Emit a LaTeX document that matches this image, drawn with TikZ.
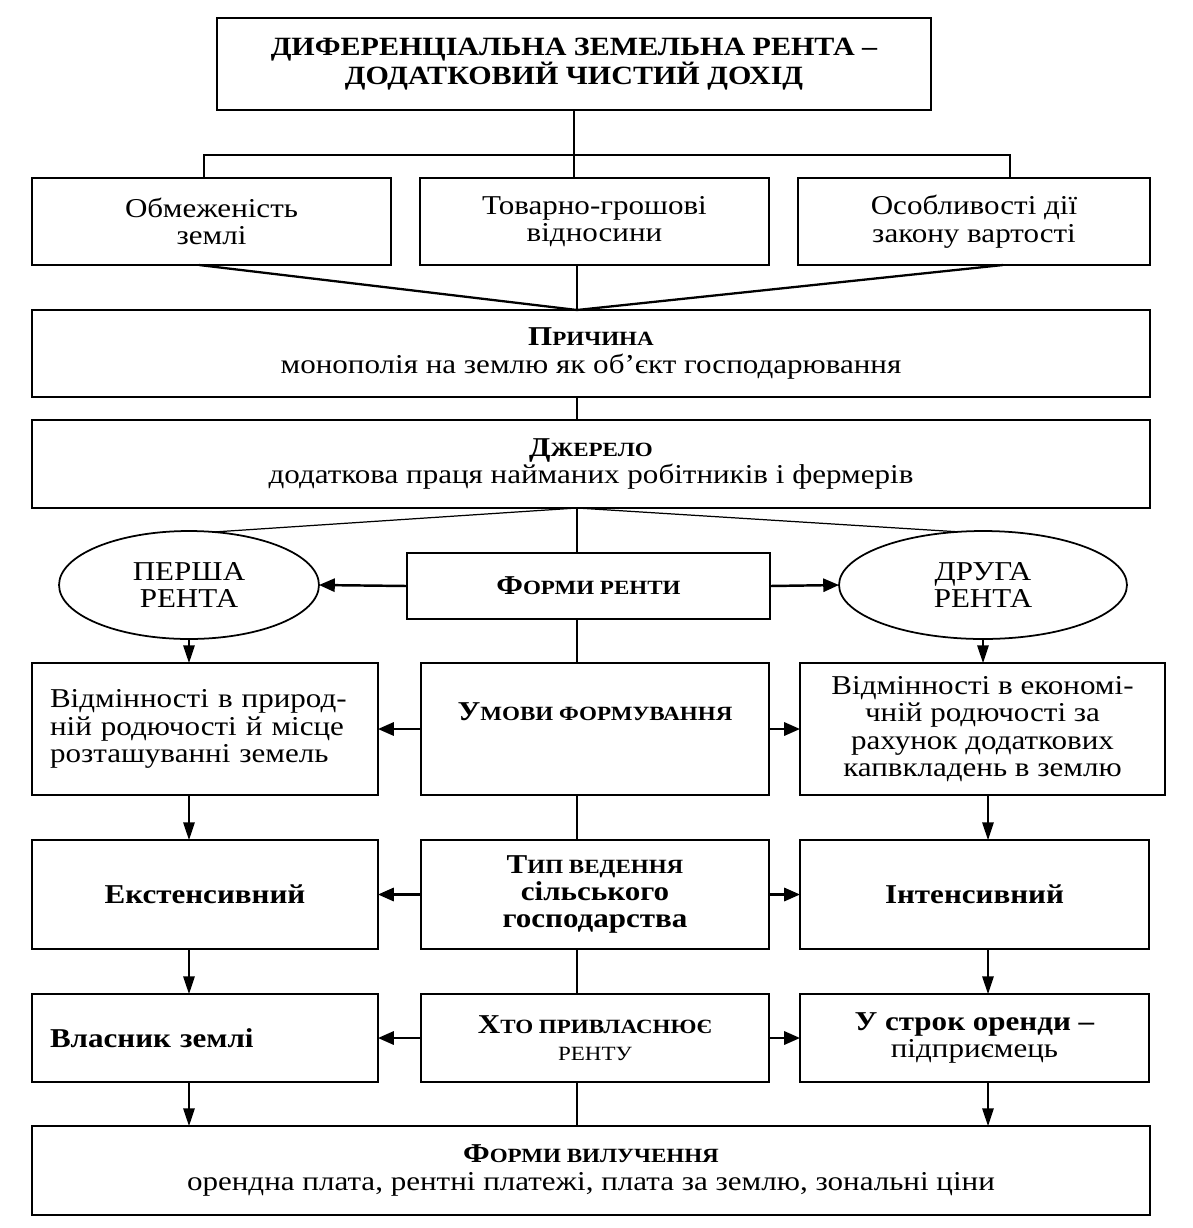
\documentclass[tikz,border=0pt]{standalone}
\usepackage{fontspec}
\setmainfont{Liberation Serif}[FakeStretch=1.14]
\usetikzlibrary{shapes.geometric,arrows.meta}
\newcommand{\smcp}[1]{{\fontsize{11.5}{14}\selectfont #1}}
\begin{document}
\begin{tikzpicture}[x=0.02cm,y=-0.02cm,
  every node/.style={font=\fontsize{15.5}{15.6}\selectfont, inner sep=0pt, outer sep=0pt},
  box/.style={draw, line width=1pt, align=center},
  oval/.style={draw, line width=1pt, ellipse, align=center},
  link/.style={line width=0.7pt},
  arr/.style={line width=1.4pt, -{Triangle[length=9pt,width=7.5pt]}},
  darr/.style={line width=0.7pt, -{Triangle[length=10pt,width=6.5pt]}}]
\useasboundingbox (0,0) rectangle (1193,1228);
% top
\node[box, minimum width=14.28cm, minimum height=1.84cm,
  font=\fontsize{15}{16.5}\selectfont\bfseries] (top) at (574,64)
  {ДИФЕРЕНЦІАЛЬНА ЗЕМЕЛЬНА РЕНТА –\\ДОДАТКОВИЙ ЧИСТИЙ ДОХІД};
% conditions
\node[box, minimum width=7.18cm, minimum height=1.74cm] (obm) at (211.5,221.5) {Обмеженість\\землі};
\node[box, minimum width=6.98cm, minimum height=1.74cm] (tov) at (594.5,221.5) {Товарно-грошові\\відносини};
\node[box, minimum width=7.04cm, minimum height=1.74cm] (osob) at (974,221.5) {Особливості дії\\закону вартості};
\node[box, minimum width=22.36cm, minimum height=1.74cm] (prych) at (591,353.5)
  {\textbf{П\smcp{РИЧИНА}}\\монополія на землю як об’єкт господарювання};
\node[box, minimum width=22.36cm, minimum height=1.76cm] (dzh) at (591,464)
  {\textbf{Д\smcp{ЖЕРЕЛО}}\\додаткова праця найманих робітників і фермерів};
% forms
\node[oval, minimum width=5.2cm, minimum height=2.16cm] (persha) at (189,585) {ПЕРША\\РЕНТА};
\node[oval, minimum width=5.76cm, minimum height=2.16cm] (druha) at (983,585) {ДРУГА\\РЕНТА};
\node[box, minimum width=7.26cm, minimum height=1.32cm] (formy) at (588.5,586) {\textbf{Ф\smcp{ОРМИ РЕНТИ}}};
% row: umovy
\node[box, minimum height=2.64cm, inner xsep=0.36cm, text width=6.2cm, align=left] (umL) at (205,729)
  {Відмінності в природ-\\ній родючості й місце\\розташуванні земель\\[4pt]};
\node[box, minimum width=6.96cm, minimum height=2.64cm] (umC) at (595,729) {\textbf{У\smcp{МОВИ ФОРМУВАННЯ}}\\[4pt]};
\node[box, minimum width=7.3cm, minimum height=2.64cm] (umR) at (982.5,729)
  {Відмінності в економі-\\чній родючості за\\рахунок додаткових\\капвкладень в землю};
% row: typ
\node[box, minimum width=6.92cm, minimum height=2.18cm] (typL) at (205,894.5) {\textbf{Екстенсивний}};
\node[box, minimum width=6.96cm, minimum height=2.18cm, font=\fontsize{15.5}{15.6}\selectfont\bfseries] (typC) at (595,894.5)
  {Т\smcp{ИП ВЕДЕННЯ}\\сільського\\господарства};
\node[box, minimum width=6.98cm, minimum height=2.18cm] (typR) at (974.5,894.5) {\textbf{Інтенсивний}};
% row: khto
\node[box, minimum height=1.76cm, inner xsep=0.36cm, text width=6.2cm, align=left] (khL) at (205,1038) {\textbf{Власник землі}};
\node[box, minimum width=6.96cm, minimum height=1.76cm] (khC) at (595,1038)
  {\textbf{Х\smcp{ТО ПРИВЛАСНЮЄ}}\\\smcp{РЕНТУ}};
\node[box, minimum width=6.98cm, minimum height=1.76cm] (khR) at (974.5,1038)
  {\textbf{У строк оренди –}\\підприємець};
\node[box, minimum width=22.36cm, minimum height=1.78cm] (vyl) at (591,1170.5)
  {\textbf{Ф\smcp{ОРМИ ВИЛУЧЕННЯ}}\\орендна плата, рентні платежі, плата за землю, зональні ціни};
% helper points
\coordinate (sp) at (577,310);
\coordinate (hl) at (204,155);
\coordinate (hr) at (1010,155);
\coordinate (cl) at (199,265);
\coordinate (cr) at (1003,265);
\coordinate (kl) at (189,0);
\coordinate (kr) at (988,0);
% spine
\draw[link] (top.south) -- (top.south |- tov.north);
\draw[link] (hl |- obm.north) |- (hr) -- (hr |- osob.north);
\draw[line width=1.3pt] (cl) -- (sp) -- (cr);
\draw[link] (sp |- tov.south) -- (sp);
\draw[link] (sp |- prych.south) -- (sp |- dzh.north);
\draw[link] (sp |- dzh.south) -- (sp |- formy.north);
\draw[link] (sp |- dzh.south) -- (persha.65);
\draw[link] (sp |- dzh.south) -- (druha.115);
\draw[link] (sp |- formy.south) -- (sp |- umC.north);
\draw[link] (sp |- umC.south) -- (sp |- typC.north);
\draw[link] (sp |- typC.south) -- (sp |- khC.north);
\draw[link] (sp |- khC.south) -- (sp |- vyl.north);
% side arrows
\draw[arr] (formy.west) -- (persha.east);
\draw[arr] (formy.east) -- (druha.west);
\draw[arr] (umC.west) -- (umL.east);
\draw[arr] (umC.east) -- (umR.west);
\draw[arr] (typC.west) -- (typL.east);
\draw[arr] (typC.east) -- (typR.west);
\draw[arr] (khC.west) -- (khL.east);
\draw[arr] (khC.east) -- (khR.west);
% down arrows
\draw[darr] (persha.south) -- (persha.south |- umL.north);
\draw[darr] (druha.south) -- (druha.south |- umR.north);
\draw[darr] (kl |- umL.south) -- (kl |- typL.north);
\draw[darr] (kr |- umR.south) -- (kr |- typR.north);
\draw[darr] (kl |- typL.south) -- (kl |- khL.north);
\draw[darr] (kr |- typR.south) -- (kr |- khR.north);
\draw[darr] (kl |- khL.south) -- (kl |- vyl.north);
\draw[darr] (kr |- khR.south) -- (kr |- vyl.north);
\end{tikzpicture}
\end{document}
